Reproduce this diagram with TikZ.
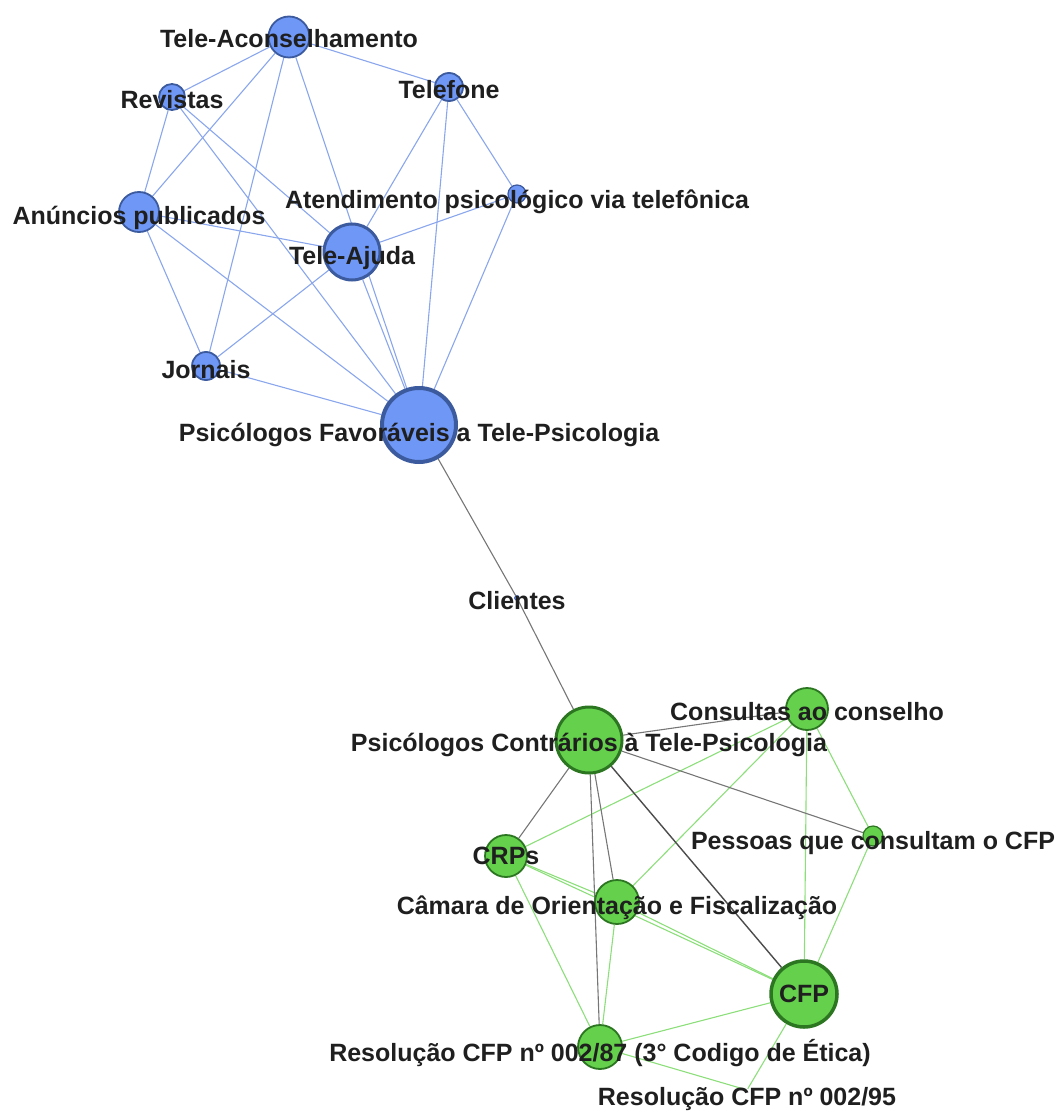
\documentclass[tikz,border=0pt]{standalone}
\usepackage{fontspec}
\setmainfont{Liberation Sans}
\usepackage{tikz}
\usetikzlibrary{backgrounds}
\definecolor{bfill}{RGB}{111,151,246}
\definecolor{bline}{RGB}{60,90,158}
\definecolor{bedgec}{RGB}{138,166,236}
\definecolor{gfill}{RGB}{100,208,76}
\definecolor{gline}{RGB}{44,118,34}
\definecolor{gedgec}{RGB}{140,222,122}
\definecolor{kedgec}{RGB}{118,118,118}
\tikzset{
  bnode/.style={circle, draw=bline, fill=bfill, inner sep=0pt, line width=1.8pt},
  gnode/.style={circle, draw=gline, fill=gfill, inner sep=0pt, line width=1.8pt},
  lbl/.style={font=\fontsize{25}{30}\selectfont\bfseries, text=black!88, inner sep=0pt},
  bedge/.style={draw=bedgec, line width=1.1pt},
  gedge/.style={draw=gedgec, line width=1.1pt},
  kedge/.style={draw=kedgec, line width=1.1pt}
}

\begin{document}
\begin{tikzpicture}[x=1pt, y=-1pt]
  \useasboundingbox (0,0) rectangle (1059,1115);
  % favourable group
  \node[bnode, minimum size=41pt, label={[lbl,yshift=-2pt]center:Tele-Aconselhamento}] (tac) at (289,37) {};
  \node[bnode, minimum size=26pt, label={[lbl,yshift=-3pt]center:Revistas}] (rev) at (172,97) {};
  \node[bnode, minimum size=28pt, label={[lbl,yshift=-3pt]center:Telefone}] (tel) at (449,87) {};
  \node[bnode, minimum size=18pt, line width=1.2pt, label={[lbl,yshift=-8pt]center:Atendimento psicológico via telefônica}] (ate) at (517,194) {};
  \node[bnode, minimum size=40pt, label={[lbl,yshift=-6pt]center:Anúncios publicados}] (anu) at (139,212) {};
  \node[bnode, minimum size=56pt, line width=3pt, label={[lbl,yshift=-6pt]center:Tele-Ajuda}] (taj) at (352,252) {};
  \node[bnode, minimum size=28pt, label={[lbl,yshift=-4pt]center:Jornais}] (jor) at (206,366) {};
  \node[bnode, minimum size=74pt, line width=4pt, label={[lbl,yshift=-10pt]center:Psicólogos Favoráveis a Tele-Psicologia}] (pfv) at (419,425) {};
  \node[bnode, minimum size=5pt, line width=0.6pt, label={[lbl,yshift=-3pt]center:Clientes}] (cli) at (517,598) {};
  % contrary group
  \node[gnode, minimum size=66pt, line width=3pt, label={[lbl,yshift=-5pt]center:Psicólogos Contrários à Tele-Psicologia}] (pct) at (589,740) {};
  \node[gnode, minimum size=42pt, label={[lbl,yshift=-3pt]center:Consultas ao conselho}] (con) at (807,709) {};
  \node[gnode, minimum size=20pt, line width=1.2pt, label={[lbl,yshift=-7pt]center:Pessoas que consultam o CFP}] (pes) at (873,836) {};
  \node[gnode, minimum size=42pt, label={[lbl,yshift=0pt]center:CRPs}] (crp) at (506,856) {};
  \node[gnode, minimum size=44pt, label={[lbl,yshift=-6pt]center:Câmara de Orientação e Fiscalização}] (cam) at (617,902) {};
  \node[gnode, minimum size=66pt, line width=3.5pt, label={[lbl]center:CFP}] (cfp) at (804,994) {};
  \node[gnode, minimum size=44pt, label={[lbl,yshift=-6pt]center:Resolução CFP nº 002/87 (3° Codigo de Ética)}] (r87) at (600,1047) {};
  \node[inner sep=0pt, minimum size=2pt, label={[lbl,yshift=-9pt]center:Resolução CFP nº 002/95}] (r95) at (747,1090) {};
  % links
  \begin{pgfonlayer}{background}
    \foreach \a/\b in {tac/rev, tac/anu, tac/jor, tac/pfv, tac/tel, rev/anu, rev/taj, rev/pfv, anu/taj,
                       anu/jor, anu/pfv, jor/taj, jor/pfv, taj/pfv, tel/taj, tel/pfv, tel/ate, ate/taj, ate/pfv}
      \draw[bedge] (\a) -- (\b);
    \foreach \a/\b in {con/crp, con/cam, con/cfp, con/pes, pes/cfp, crp/cam, crp/cfp, cam/cfp,
                       crp/r87, cam/r87, cfp/r87, cfp/r95, r87/r95}
      \draw[gedge] (\a) -- (\b);
    \foreach \a/\b in {pfv/cli, cli/pct, pct/con, pct/pes, pct/crp, pct/cam, pct/r87}
      \draw[kedge] (\a) -- (\b);
    \draw[kedge, draw=black!70, line width=1.4pt] (pct) -- (cfp);
  \end{pgfonlayer}
\end{tikzpicture}
\end{document}
